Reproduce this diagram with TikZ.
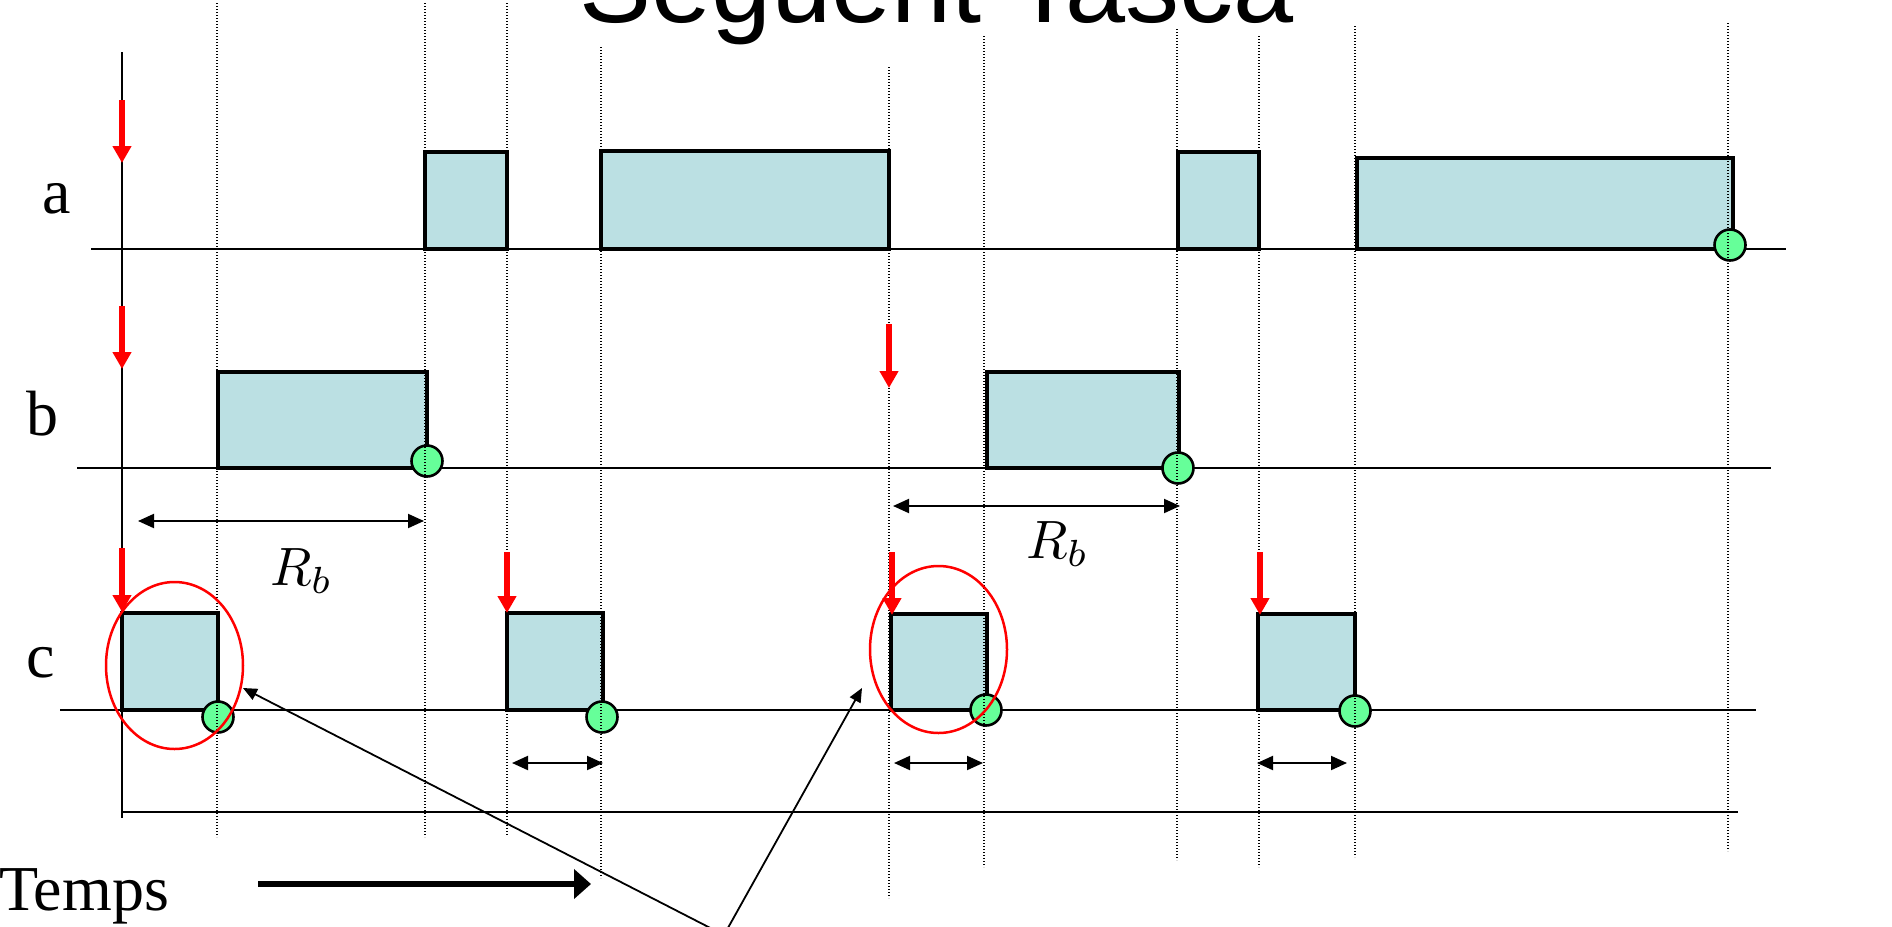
\documentclass[tikz,border=0pt]{standalone}
\usepackage{graphicx}
\usepackage{fontspec}
\setmainfont{Liberation Serif}
\newfontfamily\titlefont{Liberation Sans}
\usetikzlibrary{arrows.meta}
\definecolor{taskfill}{RGB}{187,224,227}
\definecolor{donefill}{RGB}{102,255,153}
\begin{document}
\begin{tikzpicture}[x=1pt,y=-1pt,
  timeline/.style={line width=2pt},
  task/.style={draw, line width=3.2pt, fill=taskfill},
  done/.style={circle, draw, line width=2.6pt, fill=donefill, minimum size=31pt, inner sep=0pt},
  guide/.style={line width=1.2pt, dash pattern=on 1.2pt off 1.8pt},
  release/.style={red, line width=6.5pt, -{Triangle[length=17pt,width=18pt]}},
  dim/.style={line width=2pt, {Triangle[length=16pt,width=14pt]}-{Triangle[length=16pt,width=14pt]}},
  pointer/.style={line width=1.8pt, -{Triangle[length=14pt,width=12pt]}},
  lbl/.style={anchor=base west, inner sep=0pt, font=\fontsize{64}{70}\selectfont},
  rlbl/.style={anchor=base west, inner sep=0pt},
  ring/.style={red, line width=2.5pt}
]
\useasboundingbox (0,0) rectangle (1892,926);
\clip (0,0) rectangle (1892,926);
\fill[white] (0,0) rectangle (1892,926);

% time lines and axis
\draw[timeline] (91,249) -- (1786,249);
\draw[timeline] (77,468) -- (1771,468);
\draw[timeline] (60,710) -- (1756,710);
\draw[line width=2.5pt] (122,52) -- (122,818);
\draw[line width=2.5pt] (122,812) -- (1738,812);

% tasks
\draw[task] (425,152) rectangle (507,249);
\draw[task] (601,151) rectangle (889,249);
\draw[task] (1178,152) rectangle (1259,249);
\draw[task] (1357,158) rectangle (1733,249);
\draw[task] (218,372) rectangle (427,468);
\draw[task] (987,372) rectangle (1179,468);
\draw[task] (122,613) rectangle (218,710);
\draw[task] (507,613) rectangle (603,710);
\draw[task] (891,614) rectangle (987,710);
\draw[task] (1258,614) rectangle (1355,710);

% completion marks
\node[done] (da) at (1730,245) {};
\node[done] (db1) at (427,461) {};
\node[done] (db2) at (1178,468) {};
\node[done] (dc1) at (218,717) {};
\node[done] (dc2) at (602,717) {};
\node[done] (dc3) at (986,710) {};
\node[done] (dc4) at (1355,711) {};

% dotted guides
\draw[guide] (217,3) -- (217,837);
\draw[guide] (425,3) -- (425,837);
\draw[guide] (507,3) -- (507,835);
\draw[guide] (601,47) -- (601,878);
\draw[guide] (889,67) -- (889,898);
\draw[guide] (984,36) -- (984,867);
\draw[guide] (1177,29) -- (1177,860);
\draw[guide] (1259,36) -- (1259,867);
\draw[guide] (1355,26) -- (1355,857);
\draw[guide] (1728,23) -- (1728,851);

% releases
\coordinate (ra0) at (122,100); \coordinate (ra1) at (122,163);
\coordinate (rb0) at (122,306); \coordinate (rb1) at (122,369);
\coordinate (rb2) at (889,324); \coordinate (rb3) at (889,388);
\coordinate (rc0) at (122,548); \coordinate (rc1) at (122,612);
\coordinate (rc2) at (507,552); \coordinate (rc3) at (507,613);
\coordinate (rc4) at (892,552); \coordinate (rc5) at (892,615);
\coordinate (rc6) at (1260,552); \coordinate (rc7) at (1260,615);
\draw[release] (ra0) -- (ra1);
\draw[release] (rb0) -- (rb1);
\draw[release] (rb2) -- (rb3);
\draw[release] (rc0) -- (rc1);
\draw[release] (rc2) -- (rc3);
\draw[release] (rc4) -- (rc5);
\draw[release] (rc6) -- (rc7);

% rings
\draw[ring] (174.5,665.5) ellipse [x radius=68.5, y radius=83.5];
\draw[ring] (938.5,649.5) ellipse [x radius=68.5, y radius=83.5];

% dimension arrows
\coordinate (d1a) at (138,521); \coordinate (d1b) at (424,521);
\coordinate (d2a) at (893,506); \coordinate (d2b) at (1180,506);
\coordinate (s1a) at (512,763); \coordinate (s1b) at (603,763);
\coordinate (s2a) at (894,763); \coordinate (s2b) at (983,763);
\coordinate (s3a) at (1257,763); \coordinate (s3b) at (1347,763);
\draw[dim] (d1a) -- (d1b);
\draw[dim] (d2a) -- (d2b);
\draw[dim] (s1a) -- (s1b);
\draw[dim] (s2a) -- (s2b);
\draw[dim] (s3a) -- (s3b);

% pointers
\coordinate (src) at (724,935);
\coordinate (t1) at (243,688);
\coordinate (t2) at (862,688);
\draw[pointer] (src) -- (t1);
\draw[pointer] (src) -- (t2);

% time arrow
\coordinate (ta0) at (258,884); \coordinate (ta1) at (591,884);
\draw[line width=6pt, -{Triangle[length=17pt,width=29pt]}] (ta0) -- (ta1);

% texts
\node[anchor=base west, inner sep=0pt, font=\titlefont\fontsize{108}{112}\selectfont] (title) at (579,22) {Següent Tasca};
\node[lbl] (la) at (42,213) {a};
\node[lbl] (lb) at (26,435) {b};
\node[lbl] (lc) at (26,677) {c};
\node[lbl] (temps) at (-1,910) {Temps};
\node[rlbl] (rb1lbl) at (270,585) {\scalebox{5.4}{$R_b$}};
\node[rlbl] (rb2lbl) at (1026,558) {\scalebox{5.4}{$R_b$}};
\end{tikzpicture}
\end{document}
